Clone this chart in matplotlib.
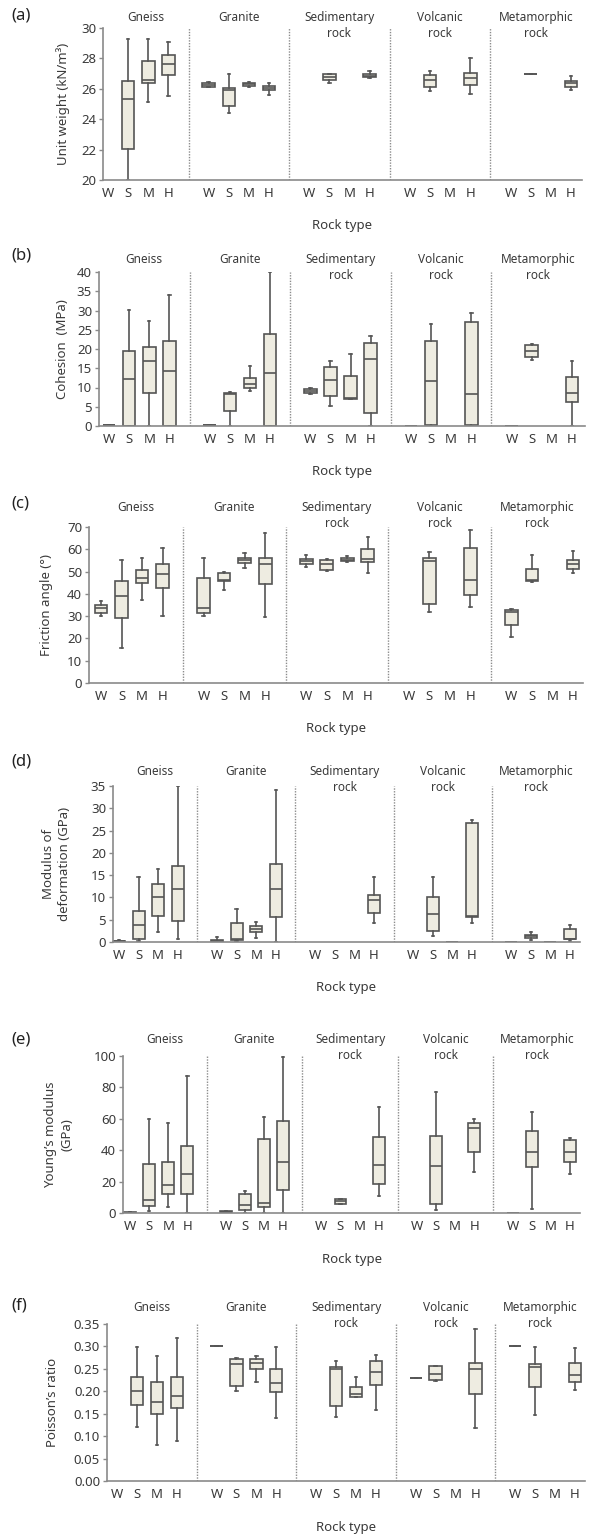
import matplotlib.pyplot as plt
from matplotlib import transforms
from matplotlib.ticker import FormatStrFormatter

plt.rcParams['font.family'] = ['Noto Sans', 'DejaVu Sans']

GROUPS = ["Gneiss", "Granite", "Sedimentary\nrock", "Volcanic\nrock", "Metamorphic\nrock"]
CLASSES = ["W", "S", "M", "H"]

# each entry: (whisker low, Q1, median, Q3, whisker high); None = no data
# order: Gneiss W S M H, Granite W S M H, Sedimentary ..., Volcanic ..., Metamorphic ...
unit_weight = [
    None, (20.0, 22.05, 25.3, 26.5, 29.3), (25.15, 26.35, 26.6, 27.85, 29.3), (25.5, 26.9, 27.65, 28.25, 29.1),
    (26.1, 26.15, 26.25, 26.35, 26.45), (24.4, 24.9, 25.9, 26.05, 27.0), (26.15, 26.2, 26.3, 26.35, 26.45), (25.6, 25.9, 26.05, 26.2, 26.4),
    None, (26.4, 26.6, 26.8, 26.95, 27.0), None, (26.7, 26.75, 26.85, 27.0, 27.15),
    None, (25.85, 26.1, 26.55, 26.9, 27.15), None, (25.65, 26.25, 26.7, 27.05, 28.0),
    None, (27.0, 27.0, 27.0, 27.0, 27.0), None, (25.9, 26.1, 26.35, 26.5, 26.85),
]
cohesion = [
    (0.1, 0.15, 0.2, 0.3, 0.35), (0, 0, 12.1, 19.6, 30.2), (0, 8.5, 17.0, 20.6, 27.2), (0, 0, 14.3, 22.0, 34.1),
    (0.1, 0.15, 0.2, 0.3, 0.35), (0, 4.0, 8.2, 8.5, 8.8), (9.0, 9.8, 11.0, 12.5, 15.7), (0, 0, 13.8, 24.0, 40.0),
    (8.3, 8.6, 9.2, 9.7, 10.0), (5.2, 7.8, 12.0, 15.4, 16.8), (7.0, 7.0, 7.2, 13.0, 18.6), (0, 3.5, 17.4, 21.5, 23.3),
    (0, 0, 0, 0, 0), (0, 0.3, 11.8, 22.0, 26.5), None, (0, 0.3, 8.3, 27.1, 29.3),
    (0, 0, 0, 0, 0), (17.2, 18.0, 19.5, 21.0, 21.2), None, (0, 6.3, 8.5, 12.8, 17.0),
]
friction = [
    (29.9, 31.4, 33.7, 35.2, 36.6), (15.9, 29.3, 39.0, 45.6, 55.0), (37.1, 44.9, 47.1, 50.6, 56.1), (30.1, 42.8, 49.1, 53.5, 60.7),
    (29.9, 31.6, 33.8, 47.3, 56.1), (41.9, 45.6, 46.2, 49.3, 49.6), (51.8, 53.8, 55.0, 56.1, 58.5), (29.6, 44.6, 53.2, 56.2, 67.3),
    (52.0, 53.2, 54.7, 55.8, 57.3), (50.3, 50.6, 53.5, 55.3, 55.8), (54.3, 54.6, 55.3, 56.2, 56.8), (49.5, 54.3, 55.8, 60.3, 65.5),
    None, (31.9, 35.3, 54.6, 56.2, 58.8), None, (34.1, 39.3, 46.1, 60.7, 68.8),
    (20.6, 25.9, 31.8, 32.6, 33.1), (45.5, 45.8, 46.4, 51.0, 57.3), None, (49.4, 51.0, 53.2, 55.0, 59.2),
]
deformation = [
    (0.05, 0.1, 0.2, 0.3, 0.35), (0.15, 0.75, 3.9, 7.0, 14.5), (2.2, 5.9, 10.2, 13.1, 16.4), (0.7, 4.6, 12.0, 17.1, 35.0),
    (0, 0.1, 0.2, 0.4, 1.1), (0.15, 0.5, 0.75, 4.25, 7.4), (0.9, 2.2, 2.9, 3.5, 4.5), (0, 5.5, 11.9, 17.5, 34.0),
    None, None, None, (4.25, 6.5, 9.5, 10.6, 14.5),
    None, (1.3, 2.4, 6.3, 10.2, 14.5), (0, 0, 0, 0, 0), (4.25, 5.6, 5.9, 26.6, 27.4),
    (0, 0, 0, 0, 0), (0.5, 0.9, 1.3, 1.65, 2.2), (0, 0, 0, 0, 0), (0.3, 0.7, 0.7, 2.9, 3.9),
]
youngs = [
    (0.1, 0.2, 0.3, 0.4, 0.5), (1.1, 4.5, 8.5, 31.0, 60.0), (3.8, 12.1, 18.0, 32.2, 57.6), (0, 12.1, 25.0, 42.4, 87.3),
    (0.3, 0.5, 0.8, 1.2, 1.5), (0, 1.7, 5.3, 12.1, 13.8), (0, 3.8, 6.4, 47.0, 61.0), (0, 14.4, 32.4, 58.9, 99.2),
    None, (5.5, 5.9, 7.6, 8.9, 9.1), None, (10.6, 18.6, 30.7, 48.7, 67.4),
    None, (2.1, 5.7, 30.1, 49.2, 77.3), None, (26.1, 38.6, 54.4, 57.2, 60.0),
    (0.3, 0.3, 0.3, 0.3, 0.3), (2.8, 29.2, 38.6, 52.3, 64.4), None, (25.0, 32.2, 38.6, 46.2, 47.7),
]
poisson = [
    None, (0.121, 0.169, 0.201, 0.231, 0.299), (0.080, 0.149, 0.177, 0.221, 0.279), (0.089, 0.162, 0.190, 0.232, 0.319),
    (0.30, 0.30, 0.30, 0.30, 0.30), (0.201, 0.211, 0.261, 0.273, 0.275), (0.221, 0.249, 0.264, 0.271, 0.279), (0.141, 0.199, 0.219, 0.249, 0.299),
    None, (0.143, 0.167, 0.250, 0.255, 0.268), (0.188, 0.188, 0.195, 0.210, 0.232), (0.159, 0.214, 0.244, 0.268, 0.281),
    (0.229, 0.229, 0.229, 0.229, 0.229), (0.223, 0.225, 0.238, 0.256, 0.257), None, (0.119, 0.195, 0.249, 0.262, 0.339),
    (0.30, 0.30, 0.30, 0.30, 0.30), (0.147, 0.209, 0.255, 0.261, 0.299), None, (0.203, 0.221, 0.236, 0.262, 0.297),
]

panel_data = [unit_weight, cohesion, friction, deformation, youngs, poisson]
panel_tags = ["(a)", "(b)", "(c)", "(d)", "(e)", "(f)"]
ylabels = ["Unit weight (kN/m\u00b3)", "Cohesion  (MPa)", "Friction angle (\u00b0)",
           "Modulus of\ndeformation (GPa)", "Young\u2019s modulus\n(GPa)", "Poisson\u2019s ratio"]
ylims = [(20, 30), (0, 40), (0, 70), (0, 35), (0, 100), (0, 0.35)]
ysteps = [2, 5, 10, 5, 20, 0.05]

# layout in pixels: axes left, right, top, bottom, px of first box, px of last box,
# ylabel x, group title y, panel tag y
layout = [
    (103, 582, 28, 180, 108, 571, 63, 18, 15),
    (99, 585, 272, 426, 109, 572, 62, 260, 255),
    (89, 583, 527, 683, 101, 573, 47, 508, 503),
    (113, 580, 786, 942, 119, 570, 56, 772, 762),
    (123, 580, 1056, 1213, 130, 570, 59, 1040, 1040),
    (107, 585, 1324, 1481, 117, 575, 53, 1308, 1305),
]

W, H = 590, 1535
FILL = "#EEECE1"
EDGE = "#555555"
AXC = "#8a8a8a"
TXT = "#3a3a3a"

fig = plt.figure(figsize=(W / 100, H / 100), dpi=100)


def fx(px):
    return px / W


def fy(py):
    return 1 - py / H


positions = [5 * g + i for g in range(5) for i in range(4)]
separators = [4, 9, 14, 19]

for k, vals in enumerate(panel_data):
    left, right, top, bottom, first, last, ylx, title_y, tag_y = layout[k]
    ax = fig.add_axes([fx(left), fy(bottom), (right - left) / W, (bottom - top) / H])

    stats, pos = [], []
    for p, v in zip(positions, vals):
        if v is None:
            continue
        stats.append(dict(whislo=v[0], q1=v[1], med=v[2], q3=v[3], whishi=v[4], fliers=[]))
        pos.append(p)

    ax.bxp(stats, positions=pos, widths=0.62, patch_artist=True, showfliers=False,
           boxprops=dict(facecolor=FILL, edgecolor=EDGE, linewidth=1.2),
           medianprops=dict(color=EDGE, linewidth=1.2),
           whiskerprops=dict(color=EDGE, linewidth=1.2),
           capprops=dict(color=EDGE, linewidth=1.2), capwidths=0.12)

    scale = (last - first) / 23
    x0 = -(first - left) / scale
    x1 = 23 + (right - last) / scale
    ax.set_xlim(x0, x1)
    lo, hi = ylims[k]
    ax.set_ylim(lo, hi)
    n = int(round((hi - lo) / ysteps[k]))
    ax.set_yticks([lo + i * ysteps[k] for i in range(n + 1)])
    if k == 5:
        ax.yaxis.set_major_formatter(FormatStrFormatter("%.2f"))

    for s in separators:
        ax.axvline(s, color="#8c8c8c", lw=1.0, ls=(0, (1, 1)), zorder=0)

    ax.set_xticks(positions)
    ax.set_xticklabels(CLASSES * 5)
    ax.tick_params(axis="x", length=0, pad=5, labelsize=9.5, labelcolor=TXT)
    ax.tick_params(axis="y", length=3, width=1, color=AXC, pad=2, labelsize=9.5, labelcolor=TXT)
    for side in ("top", "right"):
        ax.spines[side].set_visible(False)
    for side in ("left", "bottom"):
        ax.spines[side].set_color(AXC)
        ax.spines[side].set_linewidth(1.2)

    # group titles centred over each region
    bounds = [x0] + separators + [x1]
    trans = transforms.blended_transform_factory(ax.transData, fig.transFigure)
    for g, name in enumerate(GROUPS):
        cx = (bounds[g] + bounds[g + 1]) / 2
        ax.text(cx, fy(title_y - 7), name, transform=trans, ha="center", va="top",
                fontsize=8.5, color=TXT, linespacing=1.3)

    fig.text(fx(ylx), fy((top + bottom) / 2), ylabels[k], rotation=90, ha="center",
             va="center", fontsize=9.5, color=TXT, linespacing=1.3)
    fig.text(fx((left + right) / 2), fy(bottom + 46), "Rock type", ha="center",
             va="center", fontsize=9.5, color=TXT)
    fig.text(fx(11), fy(tag_y), panel_tags[k], ha="left", va="center", fontsize=12, color="#222222")

fig.savefig("out.png", dpi=100)
